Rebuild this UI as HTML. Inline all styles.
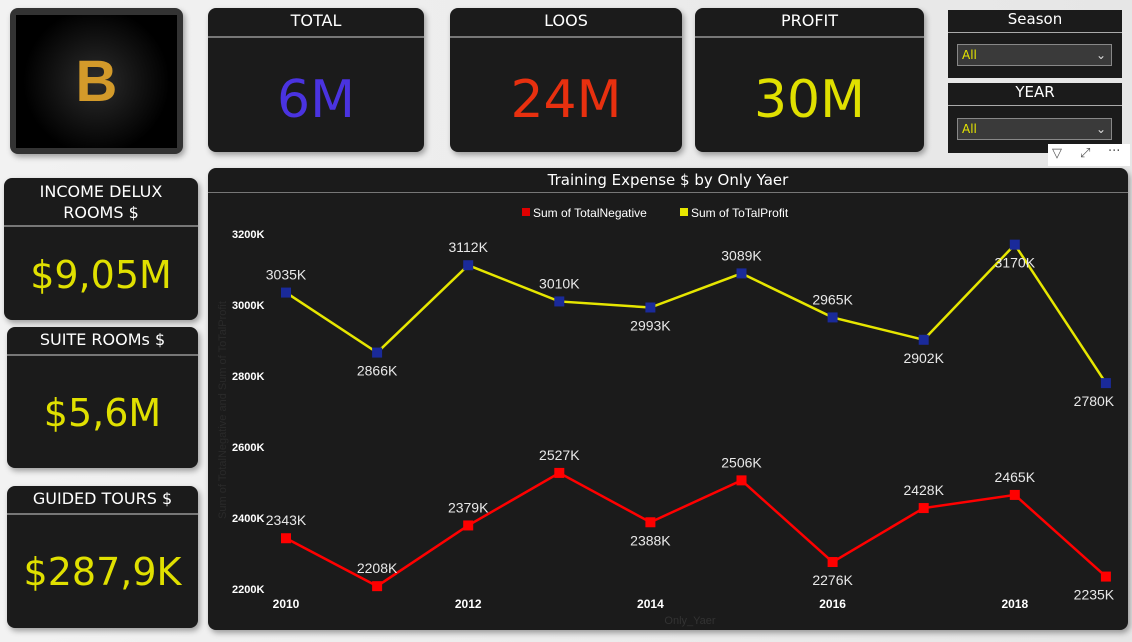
<!DOCTYPE html>
<html><head><meta charset="utf-8"><style>
body{margin:0;width:1132px;height:642px;background:linear-gradient(90deg,#f2f2f2,#e6e6e6);font-family:"DejaVu Sans","Liberation Sans",sans-serif;position:relative;overflow:hidden}
.card{position:absolute;background:#1b1b1b;border-radius:8px;box-shadow:2px 3px 6px rgba(0,0,0,.35);color:#fff}
.hd{position:absolute;left:0;right:0;text-align:center;font-size:16px;border-bottom:2px solid #777}
.val{position:absolute;left:0;right:0;text-align:center}
.sl{position:absolute;background:#1b1b1b;color:#fff}
.dd{position:absolute;left:9px;right:10px;height:20px;background:#3a3a3a;border:1px solid #888;color:#e6e600;font-size:12px;line-height:20px;padding-left:4px}
</style></head><body>
<div class="card" style="left:10px;top:8px;width:173px;height:146px;background:#333">
 <div style="position:absolute;left:6px;top:7px;width:161px;height:133px;background:radial-gradient(circle,#2c2c2c,#000 70%);text-align:center;font:bold 58px 'Liberation Sans',sans-serif;line-height:133px;color:#d39a2a">B</div>
</div>
<div class="card" style="left:208px;top:8px;width:216px;height:144px"><div class="hd" style="top:3px;height:25px">TOTAL</div><div class="val" style="top:62px;font-size:52px;color:#4a33e0">6M</div></div>
<div class="card" style="left:450px;top:8px;width:232px;height:144px"><div class="hd" style="top:3px;height:25px">LOOS</div><div class="val" style="top:62px;font-size:52px;color:#e8300f">24M</div></div>
<div class="card" style="left:695px;top:8px;width:229px;height:144px"><div class="hd" style="top:3px;height:25px">PROFIT</div><div class="val" style="top:62px;font-size:52px;color:#e0e000">30M</div></div>
<div class="sl" style="left:948px;top:10px;width:174px;height:68px"><div class="hd" style="top:0;height:22px;font-size:15px;border-bottom:1px solid #aaa">Season</div><div class="dd" style="top:34px">All<span style="position:absolute;right:5px;color:#ddd">⌄</span></div></div>
<div class="sl" style="left:948px;top:83px;width:174px;height:70px"><div class="hd" style="top:0;height:22px;font-size:15px;border-bottom:1px solid #aaa">YEAR</div><div class="dd" style="top:35px">All<span style="position:absolute;right:5px;color:#ddd">⌄</span></div></div>
<div style="position:absolute;left:1048px;top:144px;width:82px;height:22px;background:#fff;font-size:13px;color:#555">
 <span style="position:absolute;left:4px;top:2px">▽</span><span style="position:absolute;left:32px;top:2px">⤢</span><span style="position:absolute;left:60px;top:0">···</span></div>
<div class="card" style="left:4px;top:178px;width:194px;height:142px"><div class="hd" style="top:3px;height:44px;line-height:21px">INCOME DELUX<br>ROOMS $</div><div class="val" style="top:75px;font-size:38px;color:#e0e000">$9,05M</div></div>
<div class="card" style="left:7px;top:327px;width:191px;height:141px"><div class="hd" style="top:3px;height:24px">SUITE ROOMs $</div><div class="val" style="top:64px;font-size:38px;color:#e0e000">$5,6M</div></div>
<div class="card" style="left:7px;top:486px;width:191px;height:142px"><div class="hd" style="top:3px;height:24px">GUIDED TOURS $</div><div class="val" style="top:64px;font-size:38px;color:#e0e000">$287,9K</div></div>
<div class="card" style="left:208px;top:168px;width:920px;height:462px">
<div class="hd" style="top:3px;height:21px;font-size:15px;border-bottom:1px solid #777">Training Expense $ by Only Yaer</div>
</div>
<svg id="ch" width="1132" height="642" style="position:absolute;left:0;top:0;font-family:'Liberation Sans',sans-serif"></svg>
<script>
const years=[2010,2011,2012,2013,2014,2015,2016,2017,2018,2019];
const profit=[3035,2866,3112,3010,2993,3089,2965,2902,3170,2780];
const negative=[2343,2208,2379,2527,2388,2506,2276,2428,2465,2235];
const yTicks=[2200,2400,2600,2800,3000,3200];
const xTicks=[2010,2012,2014,2016,2018];
const profitLabelAbove=[1,0,1,1,0,1,1,0,0,0];
const negLabelAbove=[1,1,1,1,0,1,0,1,1,0];
const svg=document.getElementById('ch'),NS='http://www.w3.org/2000/svg';
const x=v=>286+(v-2010)*91.1, y=v=>589-(v-2200)*0.355;
function mk(t,a,txt){const e=document.createElementNS(NS,t);for(const k in a)e.setAttribute(k,a[k]);if(txt!=null)e.textContent=txt;svg.appendChild(e);return e;}
yTicks.forEach(t=>{const e=mk('text',{x:232,y:y(t)+4,fill:'#fff','font-size':11,'font-weight':'bold'},t+'K');});
xTicks.forEach(t=>{const e=mk('text',{x:x(t),y:608,fill:'#fff','font-size':12,'font-weight':'bold','text-anchor':'middle'},t);});
let at=mk('text',{x:690,y:624,fill:'#333','font-size':11,'text-anchor':'middle'},'Only_Yaer');
let yt=mk('text',{x:226,y:410,fill:'#2a2a2a','font-size':11,'text-anchor':'middle',transform:'rotate(-90 226 410)'},'Sum of TotalNegative and Sum of ToTalProfit');
[['#e00000','Sum of TotalNegative',522],['#e6e600','Sum of ToTalProfit',680]].forEach(l=>{const r=mk('rect',{x:l[2],y:208,width:8,height:8,fill:l[0]});const t=mk('text',{x:l[2]+11,y:217,fill:'#fff','font-size':12},l[1]);});
function series(vals,col,mcol,above,name){
 const p=mk('polyline',{points:vals.map((v,i)=>x(years[i])+','+y(v)).join(' '),fill:'none',stroke:col,'stroke-width':2.5});
 
 vals.forEach((v,i)=>{const cx=x(years[i]),cy=y(v);
  const m=mk('rect',{x:cx-5,y:cy-5,width:10,height:10,fill:mcol});
  const t=mk('text',{x:cx-(i==9?12:0),y:above[i]?cy-13:cy+23,fill:'#e8e8e8','font-size':14,'text-anchor':'middle'},v+'K');});
}
series(profit,'#e6e600','#1a2a9a',profitLabelAbove,'profit');
series(negative,'#ff0000','#ff0000',negLabelAbove,'negative');
</script>
</body></html>
